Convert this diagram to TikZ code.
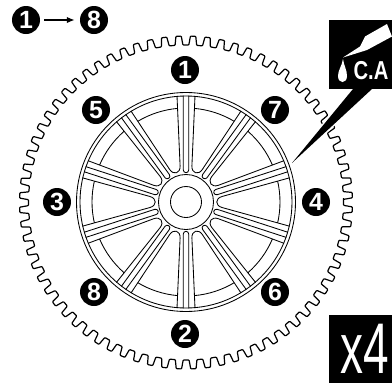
\documentclass[tikz,border=0pt]{standalone}
\usepackage{fontspec}
\usetikzlibrary{arrows.meta}
\setmainfont{Liberation Sans}
\newfontfamily\narrowfour[FakeStretch=0.64]{Liberation Sans}
\begin{document}
\begin{tikzpicture}[x=1bp,y=-1bp,
  wheelline/.style={line width=0.85bp,black},
  badge/.style={circle,fill=black,text=white,inner sep=0pt,minimum size=28bp,font=\fontsize{25}{25}\selectfont\bfseries},
  blackbox/.style={fill=black,draw=none}]
\useasboundingbox (0,0) rectangle (392,383);
\fill[white] (0,0) rectangle (392,383);
% gear ring
\begin{scope}[shift={(186,202.5)},y=1bp,rotate=1.125]
  \pgfmathsetmacro{\pitch}{360/72}
  \draw[line width=1.2bp,rounded corners=0.8bp,line join=round]
    (0:157.5) \foreach \i in {0,...,71}{
      -- ({\i*\pitch+0.1*\pitch}:166.5) -- ({\i*\pitch+0.47*\pitch}:166.5)
      -- ({\i*\pitch+0.57*\pitch}:157.5) -- ({\i*\pitch+\pitch}:157.5)
    } -- cycle;
\end{scope}
% wheel
\begin{scope}[shift={(186,202)},y=1bp]
  \draw[wheelline] (0,0) circle (109.5) (0,0) circle (106) (0,0) circle (27.5) (0,0) circle (15.5);
  \foreach \i in {0,...,9}{
    \begin{scope}[rotate={90+36*\i}]
      \draw[wheelline] (106.3,2.7) -- (32,2.7) arc (90:270:2.7) -- (106.3,-2.7);
    \end{scope}
    \begin{scope}[rotate={108+36*\i}]
      \draw[wheelline] (103.6,24.2) -- (36,5.5) .. controls (29,3.5) and (29,-3.5) .. (36,-5.5) -- (103.6,-24.2);
      \draw[wheelline] (12.84:94) arc (12.84:-12.84:94);
    \end{scope}
  }
\end{scope}
% C.A panel
\coordinate (tailL) at (353,89);
\coordinate (tailR) at (372,89);
\coordinate (tailT) at (292,163);
\draw[white,line width=3bp,line join=miter] (tailL) -- (tailT) -- (tailR);
\fill[black] (tailL) -- (tailT) -- (tailR) -- cycle;
\fill[blackbox] (329,20) rectangle (392,89);
\fill[white] (343,57.5) -- (360,46.5) -- (365,36.5) -- (387,24) -- (392,36.5) -- (367,50) -- cycle;
\fill[white] (343,59) .. controls (342,66) and (338,70) .. (338,76) .. controls (338,84) and (347,84) .. (347,76) .. controls (347,70) and (344,66) .. (343,59) -- cycle;
\node[text=white,inner sep=0pt,font=\fontsize{26}{26}\selectfont\bfseries,xscale=.78] (calabel) at (371,71) {C.A};
% x4 panel
\fill[blackbox] (329,315) rectangle (392,383);
\node[text=white,inner sep=0pt,font=\fontsize{72}{72}\selectfont\narrowfour] (xfour) at (364.5,349) {x4};
% badges
\node[badge] (a1) at (26,20) {1};
\node[badge] (a8) at (94,20) {8};
\draw[line width=1.6bp,-{Latex[length=8bp,width=6.5bp]},shorten <=4bp,shorten >=5bp] (a1) -- (a8);
\node[badge] (n1) at (185,70) {1};
\node[badge] (n5) at (96,110) {5};
\node[badge] (n7) at (275,110) {7};
\node[badge] (n3) at (57,202) {3};
\node[badge] (n4) at (316,202) {4};
\node[badge] (n8) at (94,292) {8};
\node[badge] (n6) at (275,292) {6};
\node[badge] (n2) at (185,334) {2};
\end{tikzpicture}
\end{document}
